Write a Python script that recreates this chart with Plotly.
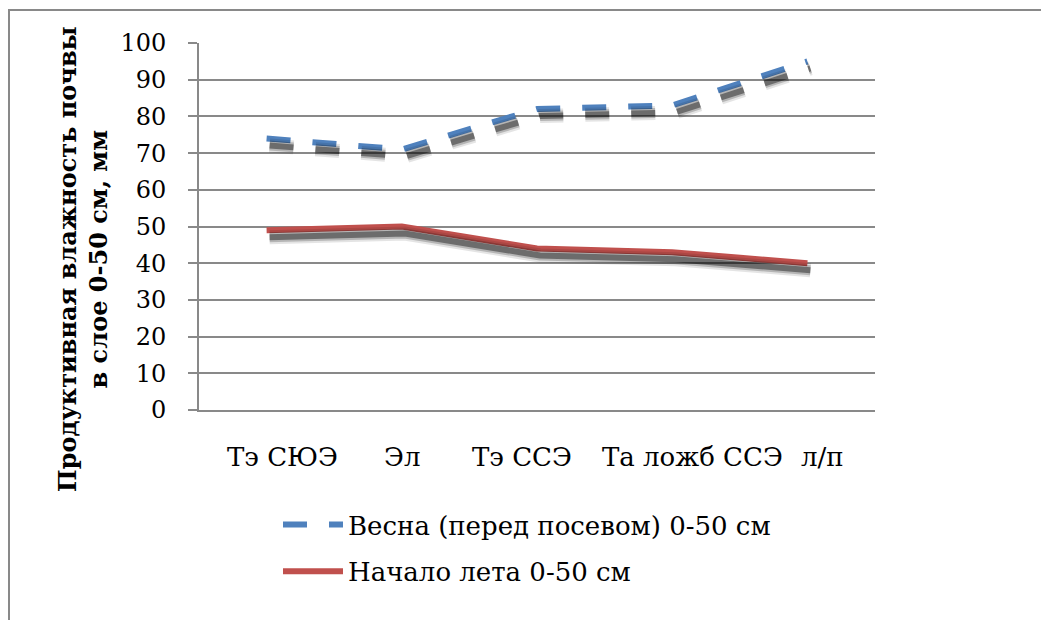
import plotly.graph_objects as go

categories = ["Тэ СЮЭ", "Эл", "Тэ ССЭ", "Та ложб ССЭ", "л/п"]
spring_values = [74, 71, 82, 83, 95]
summer_values = [49, 50, 44, 43, 40]
series_names = ["Весна (перед посевом) 0-50 см", "Начало лета 0-50 см"]
y_title_lines = ["Продуктивная влажность почвы", "в слое 0-50 см, мм"]

# horizontal nudges of category labels (px), as laid out in the original
label_shift = [16, 0, -15, 20, 15]

BLUE = "#4F81BD"
RED = "#C0504D"
GRID = "#898989"
FONT = "DejaVu Serif"

W, H = 1049, 620
OFF = 8  # page body margin in screenshot
PL, PR, PT, PB = 199, 875, 43, 410
L = PL - OFF
R = W - (PR - OFF)
T = PT - OFF
B = H - (PB - OFF)
plot_w = PR - PL
plot_h = PB - PT


def px_x(sx):
    return (sx - PL) / plot_w


def px_y(sy):
    return (PB - sy) / plot_h


sh_dx_px, sh_dy_px = 3, 7
dx = sh_dx_px / (plot_w / 5)
dy = sh_dy_px / (plot_h / 100)

fig = go.Figure()

for vals, dash in [(spring_values, "24px,22px"), (summer_values, "solid")]:
    for w, op in [(14, 0.10), (10, 0.2), (6, 0.4)]:
        fig.add_trace(go.Scatter(
            x=categories, y=vals, mode="lines", xaxis="x2", yaxis="y2",
            line=dict(color="black", width=w, dash=dash),
            opacity=op, showlegend=False, hoverinfo="skip"))

fig.add_trace(go.Scatter(
    x=categories, y=spring_values, mode="lines", name=series_names[0],
    legendgroup="a",
    line=dict(color=BLUE, width=6, dash="24px,22px")))
fig.add_trace(go.Scatter(
    x=categories, y=summer_values, mode="lines", name=series_names[1],
    legendgroup="b",
    line=dict(color=RED, width=6)))

annotations = [
    dict(text="<b>" + y_title_lines[0] + "<br>" + y_title_lines[1] + "</b>",
         xref="paper", yref="paper",
         x=px_x(83), y=px_y(259),
         xanchor="center", yanchor="middle", textangle=-90,
         showarrow=False, font=dict(family=FONT, size=24),
         align="center")
]
for cat, sh in zip(categories, label_shift):
    annotations.append(dict(
        text=cat, xref="x", yref="paper", x=cat, y=px_y(457),
        xanchor="center", yanchor="middle", xshift=sh, showarrow=False,
        font=dict(family=FONT, size=26)))

fig.update_layout(
    width=W, height=H,
    margin=dict(l=L, r=R, t=T, b=B),
    paper_bgcolor="white", plot_bgcolor="white",
    font=dict(family=FONT, size=26, color="black"),
    xaxis=dict(
        type="category", range=[-0.5, 4.5], showgrid=False,
        showline=True, linecolor=GRID, linewidth=2,
        ticks="", showticklabels=False, zeroline=False, fixedrange=True),
    yaxis=dict(
        range=[0, 100], dtick=10, showgrid=True, gridcolor=GRID, gridwidth=2,
        showline=True, linecolor=GRID, linewidth=2,
        ticks="outside", ticklen=9, tickcolor=GRID, tickwidth=2,
        ticklabelstandoff=17,
        tickfont=dict(family=FONT, size=24), zeroline=False),
    xaxis2=dict(type="category", overlaying="x", range=[-0.5 - dx, 4.5 - dx],
                visible=False, fixedrange=True),
    yaxis2=dict(overlaying="y", range=[dy, 100 + dy], visible=False),
    showlegend=True,
    legend=dict(
        x=px_x(278), xanchor="left",
        y=px_y(501), yanchor="top",
        font=dict(family=FONT, size=26),
        bgcolor="rgba(0,0,0,0)", traceorder="grouped", tracegroupgap=10,
        itemwidth=60),
    annotations=annotations,
    shapes=[
        dict(type="rect", xref="paper", yref="paper",
             x0=px_x(9), x1=px_x(W + 30),
             y0=px_y(H + 30), y1=px_y(10),
             line=dict(color=GRID, width=2), fillcolor="rgba(0,0,0,0)",
             layer="below")
    ],
)

fig.write_html("out.html")
